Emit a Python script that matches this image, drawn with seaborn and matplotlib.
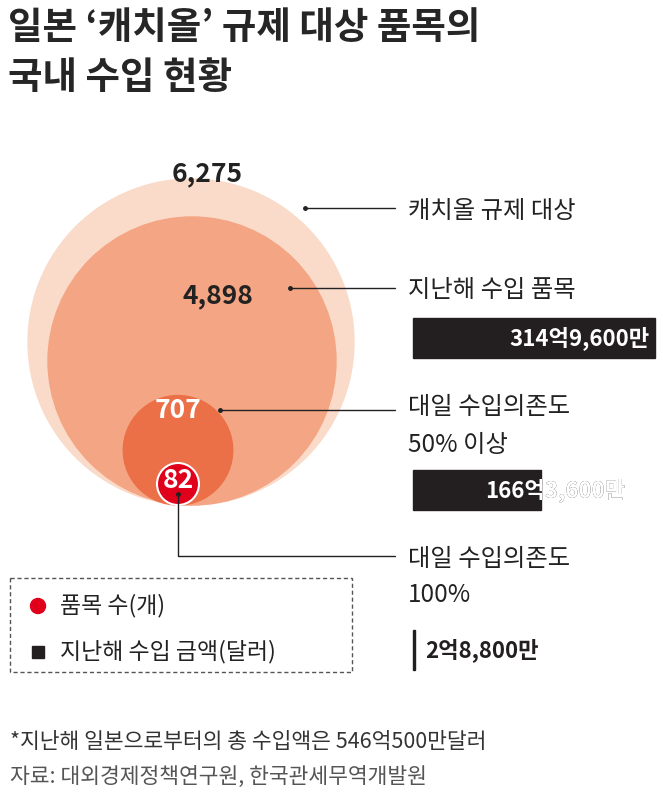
import matplotlib
matplotlib.use("Agg")
import matplotlib.pyplot as plt
import numpy as np
import seaborn as sns
from matplotlib.patches import Circle, Rectangle

sns.set_theme(style="white")
plt.rcParams["font.family"] = "Noto Sans CJK KR"

# data
circle_labels = ["캐치올 규제 대상", "지난해 수입 품목", "대일 수입의존도\n50% 이상", "대일 수입의존도\n100%"]
item_counts = [6275, 4898, 707, 82]
import_amounts = [314.96, 166.36, 2.88]  # 억 달러
amount_labels = ["314억9,600만", "166억3,600만", "2억8,800만"]
circle_colors = ["#fadbca", "#f4a583", "#ec7047", "#e1001c"]

fig = plt.figure(figsize=(6.63, 8), dpi=100)
ax = fig.add_axes([0, 0, 1, 1])
ax.set_xlim(0, 663)
ax.set_ylim(800, 0)
ax.axis("off")

ax.text(8, 28, "일본 ‘캐치올’ 규제 대상 품목의", fontsize=27, fontweight="bold", va="center")
ax.text(8, 77, "국내 수입 현황", fontsize=27, fontweight="bold", va="center")

# nested circles, area ~ item count, tangent at bottom
base_r, bottom = 163, 505
cx = [191, 192, 178, 178]
radii = [base_r * np.sqrt(n / item_counts[0]) for n in item_counts]
radii[3] = max(radii[3], 21)
for x, r, c in zip(cx, radii, circle_colors):
    ax.add_patch(Circle((x, bottom - r), r, color=c, zorder=2))
ax.add_patch(Circle((cx[3], bottom - radii[3]), radii[3], fill=False, ec="white", lw=1.5, zorder=3))

num_pos = [(207, 174, "#222"), (218, 296, "#222"), (178, 410, "white"), (178, 481, "white")]
for (x, y, col), n in zip(num_pos, item_counts):
    ax.text(x, y, f"{n:,}", fontsize=19, fontweight="bold", color=col, ha="center", va="center", zorder=4)

# leader lines
lines = [[(305, 208), (395, 208)], [(290, 288), (395, 288)], [(220, 410), (395, 410)],
         [(178, 494), (178, 556), (395, 556)]]
for pts in lines:
    xs, ys = zip(*pts)
    ax.plot(xs, ys, color="#222", lw=1, zorder=5)
    ax.plot(xs[0], ys[0], "o", color="#222", ms=2.5, zorder=5)

text_pos = [(408, 211), (408, 290), (408, 426), (408, 577)]
for (x, y), t in zip(text_pos, circle_labels):
    ax.text(x, y, t, fontsize=17.5, va="center", linespacing=1.55, color="#222")

# import amount bars
bar_left, bar_max_w = 413, 242
bar_y = [338, 490, 650]
scale = bar_max_w / import_amounts[0]
for y, v, lab in zip(bar_y, import_amounts, amount_labels):
    w = max(v * scale, 1.5)
    bar = Rectangle((bar_left, y - 20), w, 40, color="#231f20", zorder=2)
    ax.add_patch(bar)
    if v * scale > 200:
        ax.text(bar_left + w - 5, y, lab, color="white", fontsize=16, fontweight="bold",
                ha="right", va="center", zorder=3)
    elif v * scale > 50:
        ax.text(bar_left + 72, y, lab, color="#231f20", fontsize=16, fontweight="bold",
                va="center", zorder=3)
        t = ax.text(bar_left + 72, y, lab, color="white", fontsize=16,
                    fontweight="bold", va="center", zorder=4)
        t.set_clip_path(bar)
    else:
        ax.text(bar_left + 12, y, lab, color="#231f20", fontsize=16, fontweight="bold",
                va="center", zorder=3)

# legend box
ax.add_patch(Rectangle((10, 578), 342, 94, fill=False, ec="#555", lw=1, ls=(0, (3, 2))))
ax.add_patch(Circle((38, 606), 7.5, color="#e1001c"))
ax.text(60, 606, "품목 수(개)", fontsize=16.5, va="center", color="#222")
ax.add_patch(Rectangle((32, 646), 12, 12, color="#231f20"))
ax.text(60, 652, "지난해 수입 금액(달러)", fontsize=16.5, va="center", color="#222")

ax.text(10, 742, "*지난해 일본으로부터의 총 수입액은 546억500만달러", fontsize=15.5, va="center", color="#333")
ax.text(10, 777, "자료: 대외경제정책연구원, 한국관세무역개발원", fontsize=15.5, va="center", color="#555")

fig.savefig("out.png", dpi=100)
